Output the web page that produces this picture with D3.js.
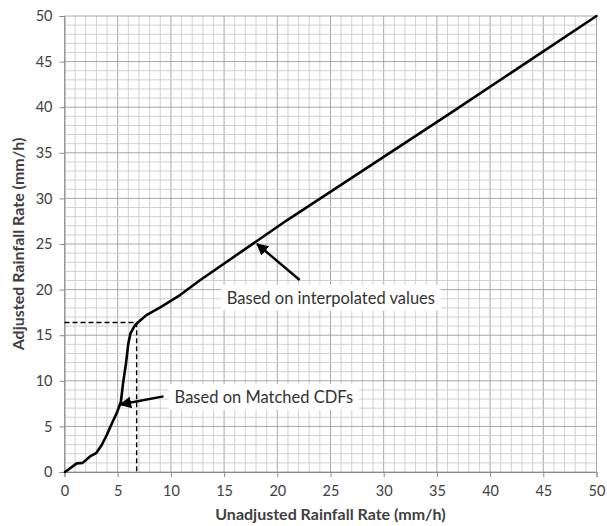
<!DOCTYPE html>
<html><head><meta charset="utf-8">
<script src="https://cdn.jsdelivr.net/npm/d3@7"></script>
<style>body{margin:0;background:#fff}</style>
</head><body>
<svg id="c" width="607" height="526"></svg>
<script>
const unadjusted = [0.05,1.15,1.7,2.4,3.0,3.5,3.97,4.44,4.96,5.3,5.5,5.78,6.0,6.2,6.63,6.95,7.7,9.0,10.86,12.7,20.9,36.2,50];
const adjusted   = [0,0.95,1.0,1.7,2.1,2.96,4.06,5.3,6.6,7.7,9.7,11.9,14.1,15.2,16.1,16.45,17.2,18.05,19.4,21.0,27.6,39.3,50];
const xTicks = [0,5,10,15,20,25,30,35,40,45,50];
const yTicks = [0,5,10,15,20,25,30,35,40,45,50];
const refPoint = {x:6.78, y:16.4};
const notes = [
  {text:"Based on interpolated values", tip:[18.1,25.0], tail:[22.1,21.05], at:[15.25,19.1]},
  {text:"Based on Matched CDFs", tip:[5.25,7.4], tail:[9.3,8.3], at:[10.35,8.2]}
];

const svg = d3.select("#c");
const m = {l:64.5, r:596.5, t:16, b:472};
const x = d3.scaleLinear().domain([0,50]).range([m.l,m.r]);
const y = d3.scaleLinear().domain([0,50]).range([m.b,m.t]);
const FONT = "Lato, 'Open Sans', sans-serif";

// grid
const minor = d3.range(0,51,1);
svg.append("g").selectAll("line").data(minor).join("line")
  .attr("x1",d=>x(d)).attr("x2",d=>x(d)).attr("y1",m.t).attr("y2",m.b)
  .attr("stroke",d=>d%5===0?"#a6a6a6":"#d0d0d0").attr("stroke-width",1);
svg.append("g").selectAll("line").data(minor).join("line")
  .attr("y1",d=>y(d)).attr("y2",d=>y(d)).attr("x1",m.l).attr("x2",m.r)
  .attr("stroke",d=>d%5===0?"#a6a6a6":"#d0d0d0").attr("stroke-width",1);

// axes
const xa = svg.append("g").attr("transform",`translate(0,${m.b})`)
  .call(d3.axisBottom(x).tickValues(xTicks).tickSize(5).tickPadding(9).tickFormat(d3.format("d")));
const ya = svg.append("g").attr("transform",`translate(${m.l},0)`)
  .call(d3.axisLeft(y).tickValues(yTicks).tickSize(5).tickPadding(7).tickFormat(d3.format("d")));
[xa,ya].forEach(a=>{
  a.select(".domain").attr("stroke","#8c8c8c");
  a.selectAll(".tick line").attr("stroke","#8c8c8c");
  a.selectAll("text").attr("fill","#404040").style("font-family",FONT).style("font-size","14.5px");
});

// dashed reference lines
svg.append("path")
  .attr("d",`M${x(0)},${y(refPoint.y)}H${x(refPoint.x)}V${y(0)}`)
  .attr("fill","none").attr("stroke","#000").attr("stroke-width",1.4).attr("stroke-dasharray","5,3");

// curve
const pts = unadjusted.map((v,i)=>[v,adjusted[i]]);
svg.append("path").datum(pts)
  .attr("d",d3.line().x(d=>x(d[0])).y(d=>y(d[1])).curve(d3.curveLinear))
  .attr("fill","none").attr("stroke","#000").attr("stroke-width",2.6).attr("stroke-linejoin","round").attr("stroke-linecap","round");

// annotations
svg.append("defs").append("marker").attr("id","ah").attr("viewBox","0 0 10 10")
  .attr("refX",9).attr("refY",5).attr("markerWidth",5).attr("markerHeight",5).attr("orient","auto")
  .append("path").attr("d","M0,0L10,5L0,10z").attr("fill","#000");
notes.forEach(n=>{
  const g = svg.append("g");
  const t = g.append("text").attr("x",x(n.at[0])).attr("y",y(n.at[1])).attr("dy","0.35em")
    .attr("fill","#333").style("font-family",FONT).style("font-size","16.5px").text(n.text);
  const bb = t.node().getBBox();
  g.insert("rect","text").attr("x",bb.x-6).attr("y",bb.y-3).attr("width",bb.width+12).attr("height",bb.height+6).attr("fill","#fff");
  svg.append("line").attr("x1",x(n.tail[0])).attr("y1",y(n.tail[1])).attr("x2",x(n.tip[0])).attr("y2",y(n.tip[1]))
    .attr("stroke","#000").attr("stroke-width",2.4).attr("marker-end","url(#ah)");
});

// axis titles
svg.append("text").attr("x",(m.l+m.r)/2).attr("y",520).attr("text-anchor","middle")
  .attr("fill","#404040").style("font-family",FONT).style("font-size","16px").style("font-weight","bold")
  .text("Unadjusted Rainfall Rate (mm/h)");
svg.append("text").attr("transform",`translate(18,${(m.t+m.b)/2}) rotate(-90)`).attr("text-anchor","middle").attr("dy","0.35em")
  .attr("fill","#404040").style("font-family",FONT).style("font-size","16px").style("font-weight","bold")
  .text("Adjusted Rainfall Rate (mm/h)");
</script>
</body></html>
